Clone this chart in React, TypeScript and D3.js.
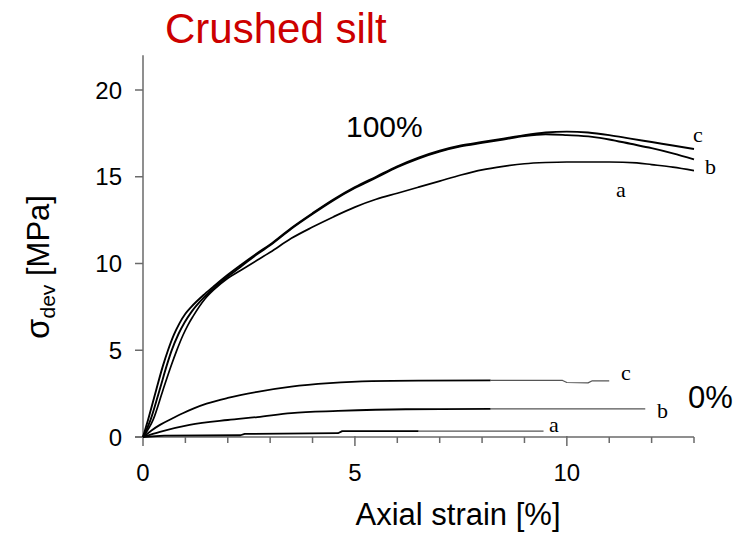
import React from "react";
import * as d3 from "d3";

// Deviatoric stress vs axial strain, crushed silt, at 100% and 0% saturation
const xTicks = [0, 1, 2, 3, 4, 5, 6, 7, 8, 9, 10, 11, 12, 13];
const xTickLabels = [0, 5, 10];
const yTicks = [0, 5, 10, 15, 20];

const fullA: [number, number][] = [
  [0, 0], [0.24, 1.0], [0.47, 2.7], [0.67, 4.15], [0.79, 4.95], [0.94, 5.85], [1.06, 6.45],
  [1.18, 6.95], [1.46, 7.95], [1.7, 8.55], [2.0, 9.15], [2.3, 9.6], [2.7, 10.2],
  [3.0, 10.65], [3.5, 11.45], [4.0, 12.1], [4.5, 12.7], [5.0, 13.25],
  [5.5, 13.7], [6.0, 14.05], [6.5, 14.4], [7.0, 14.75], [7.5, 15.1], [8.0, 15.4],
  [8.5, 15.6], [9.0, 15.75], [9.5, 15.82], [10.0, 15.85], [10.5, 15.85], [11.0, 15.85],
  [11.65, 15.8], [12.0, 15.7], [12.5, 15.55], [13.0, 15.35],
];
const fullB: [number, number][] = [
  [0, 0], [0.18, 1.0], [0.39, 2.7], [0.57, 4.2], [0.67, 4.95], [0.84, 5.95], [0.98, 6.6],
  [1.14, 7.2], [1.46, 8.1], [1.7, 8.65], [2.0, 9.25], [2.3, 9.8],
  [2.7, 10.55], [3.0, 11.05], [3.5, 12.0], [4.0, 12.85], [4.5, 13.65], [5.0, 14.35],
  [5.5, 14.95], [6.0, 15.55], [6.5, 16.05], [7.0, 16.45], [7.5, 16.75], [8.0, 16.95],
  [8.5, 17.15], [9.0, 17.35], [9.5, 17.45], [10.0, 17.4], [10.6, 17.3], [11.0, 17.15],
  [11.5, 16.9], [12.0, 16.65], [12.5, 16.35], [13.0, 16.0],
];
const fullC: [number, number][] = [
  [0, 0], [0.12, 1.0], [0.31, 2.7], [0.47, 4.1], [0.59, 5.0], [0.73, 5.9], [0.86, 6.55],
  [1.0, 7.1], [1.14, 7.5], [1.46, 8.25], [1.7, 8.75], [2.0, 9.35], [2.3, 9.9],
  [2.7, 10.6], [3.0, 11.1], [3.5, 12.05], [4.0, 12.9], [4.5, 13.7], [5.0, 14.4],
  [5.5, 15.0], [6.0, 15.6], [6.5, 16.1], [7.0, 16.5], [7.5, 16.8], [8.0, 17.0],
  [8.5, 17.2], [9.0, 17.4], [9.5, 17.55], [10.0, 17.6], [10.5, 17.55], [11.0, 17.4],
  [11.5, 17.2], [12.0, 17.0], [12.5, 16.8], [13.0, 16.6],
];

const dryA: [number, number][] = [
  [0, 0], [0.5, 0.08], [2.3, 0.1], [2.4, 0.18], [4.6, 0.22], [4.7, 0.34], [9.45, 0.34],
];
const dryB: [number, number][] = [
  [0, 0], [0.4, 0.3], [1.1, 0.7], [2.0, 0.98], [2.7, 1.15], [3.5, 1.38], [4.6, 1.5],
  [6.2, 1.6], [8.2, 1.62], [11.85, 1.62],
];
const dryC: [number, number][] = [
  [0, 0], [0.2, 0.38], [0.4, 0.7], [0.7, 1.08], [0.94, 1.37], [1.2, 1.65], [1.5, 1.92],
  [2.0, 2.25], [2.7, 2.6], [3.5, 2.9], [4.4, 3.1], [5.4, 3.22], [6.5, 3.25], [8.2, 3.26],
  [9.9, 3.26], [10.0, 3.14], [10.5, 3.12], [10.6, 3.24], [11.0, 3.24],
];

const W = 744;
const H = 545;

const x = d3.scaleLinear().domain([0, 13]).range([143, 694]);
const y = d3.scaleLinear().domain([0, 22]).range([437, 55.3]);

const smooth = d3
  .line<[number, number]>()
  .x((d) => x(d[0]))
  .y((d) => y(d[1]))
  .curve(d3.curveMonotoneX);

const straight = d3
  .line<[number, number]>()
  .x((d) => x(d[0]))
  .y((d) => y(d[1]));

// 0% curves: heavy trace for the early record, thin trace for the tail
const dryCurves = [
  { data: dryA, heavyUntil: 6.5, gen: straight },
  { data: dryB, heavyUntil: 8.2, gen: smooth },
  { data: dryC, heavyUntil: 8.2, gen: smooth },
];

const sans = "'Liberation Sans', Arial, sans-serif";
const serif = "'Liberation Serif', 'Times New Roman', serif";

export default function App() {
  return (
    <svg
      width={W}
      height={H}
      viewBox={`0 0 ${W} ${H}`}
      style={{ position: "absolute", left: 0, top: 0, background: "#fff" }}
    >
      <rect width={W} height={H} fill="#fff" />

      {/* title */}
      <text x={165} y={43} fontFamily={sans} fontSize={42} fill="#CC0000">
        Crushed silt
      </text>

      {/* axes */}
      <g stroke="#6a6a6a" strokeWidth={1.5} fill="none">
        <line x1={x(0)} x2={x(0)} y1={y(0)} y2={y(22)} />
        <line x1={x(0) - 8} x2={x(13)} y1={y(0)} y2={y(0)} />
        {yTicks.map((t) => (
          <line key={`yt${t}`} x1={x(0) - 8} x2={x(0)} y1={y(t)} y2={y(t)} />
        ))}
        {xTicks.map((t) => {
          const major = t % 5 === 0;
          return (
            <line
              key={`xt${t}`}
              x1={x(t)}
              x2={x(t)}
              y1={y(0) - (major ? 1 : 0)}
              y2={y(0) + (major ? 9 : 6)}
            />
          );
        })}
      </g>

      {/* tick labels */}
      <g fontFamily={sans} fontSize={24} fill="#000">
        {yTicks.map((t) => (
          <text key={`yl${t}`} x={122} y={y(t) + 8.5} textAnchor="end">
            {t}
          </text>
        ))}
        {xTickLabels.map((t) => (
          <text key={`xl${t}`} x={x(t)} y={481} textAnchor="middle">
            {t}
          </text>
        ))}
      </g>

      {/* axis titles */}
      <text x={458} y={525} fontFamily={sans} fontSize={31} textAnchor="middle" fill="#000">
        Axial strain [%]
      </text>
      <text
        transform="translate(49,267) rotate(-90)"
        fontFamily={sans}
        fontSize={31}
        textAnchor="middle"
        fill="#000"
      >
        <tspan fontSize={33}>σ</tspan>
        <tspan fontSize={21} dy={6}>dev</tspan>
        <tspan dy={-6}> [MPa]</tspan>
      </text>

      {/* 100% saturation curves */}
      <g fill="none" stroke="#000" strokeLinejoin="round">
        {[fullA, fullB, fullC].map((d, i) => (
          <path key={`full${i}`} d={smooth(d) ?? ""} strokeWidth={i === 0 ? 1.7 : 1.9} />
        ))}
      </g>

      {/* 0% saturation curves */}
      <g fill="none" strokeLinejoin="round">
        {dryCurves.map((c, i) => {
          const head = c.data.filter((p) => p[0] <= c.heavyUntil);
          const tail = c.data.filter((p) => p[0] >= c.heavyUntil);
          if (head[head.length - 1][0] < c.heavyUntil) {
            const next = tail[0];
            const prev = head[head.length - 1];
            const v = prev[1] + ((next[1] - prev[1]) * (c.heavyUntil - prev[0])) / (next[0] - prev[0]);
            head.push([c.heavyUntil, v]);
            tail.unshift([c.heavyUntil, v]);
          }
          return (
            <g key={`dry${i}`}>
              <path d={straight(tail) ?? ""} stroke="#555" strokeWidth={1.2} />
              <path d={c.gen(head) ?? ""} stroke="#000" strokeWidth={1.8} />
            </g>
          );
        })}
      </g>

      {/* curve labels */}
      <g fontFamily={serif} fontSize={22} fill="#000">
        <text x={693} y={142}>c</text>
        <text x={705} y={174}>b</text>
        <text x={616} y={197}>a</text>
        <text x={621} y={380}>c</text>
        <text x={657} y={418}>b</text>
        <text x={549} y={432}>a</text>
      </g>
      <g fontFamily={sans} fill="#000">
        <text x={346} y={137} fontSize={30}>100%</text>
        <text x={688} y={408} fontSize={31}>0%</text>
      </g>
    </svg>
  );
}
